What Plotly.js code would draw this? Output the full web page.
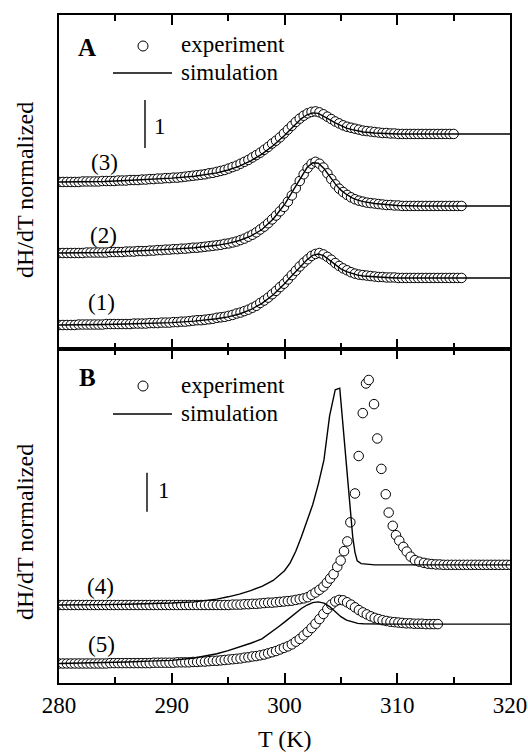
<!DOCTYPE html>
<html>
<head>
<meta charset="utf-8">
<script src="https://cdn.plot.ly/plotly-3.0.1.min.js"></script>
<style>html,body{margin:0;padding:0;background:#fff;}#chart{width:528px;height:752px;}</style>
</head>
<body>
<div id="chart"></div>
<script>
// ---------- data ----------
const xTickVals = [280, 290, 300, 310, 320];
const xTickText = ['280', '290', '300', '310', '320'];

// experimental temperature grid (K)
const T_exp = [
280.00,280.35,280.70,281.05,281.40,281.75,282.10,282.45,282.80,283.15,
283.50,283.85,284.20,284.55,284.90,285.25,285.60,285.95,286.30,286.65,
287.00,287.35,287.70,288.05,288.40,288.75,289.10,289.45,289.80,290.15,
290.50,290.85,291.20,291.55,291.90,292.25,292.60,292.95,293.30,293.65,
294.00,294.35,294.70,295.05,295.40,295.75,296.10,296.45,296.80,297.15,
297.50,297.85,298.20,298.55,298.90,299.25,299.60,299.95,300.30,300.65,
301.00,301.35,301.70,302.05,302.40,302.75,303.10,303.45,303.80,304.15,
304.50,304.85,305.20,305.55,305.90,306.25,306.60,306.95,307.30,307.65,
308.00,308.35,308.70,309.05,309.40,309.75,310.10,310.45,310.80,311.15,
311.50,311.85,312.20,312.55,312.90,313.25,313.60,313.95,314.30,314.65,
315.00,315.35,315.70];

const exp1 = [
0.50,0.50,0.50,0.50,0.50,0.51,0.51,0.51,0.51,0.51,
0.51,0.51,0.52,0.52,0.52,0.52,0.52,0.52,0.52,0.53,
0.53,0.53,0.53,0.54,0.54,0.54,0.55,0.55,0.55,0.56,
0.56,0.57,0.57,0.58,0.59,0.60,0.60,0.61,0.62,0.63,
0.65,0.66,0.67,0.69,0.71,0.74,0.76,0.79,0.82,0.86,
0.90,0.96,1.01,1.07,1.14,1.21,1.29,1.36,1.45,1.54,
1.63,1.72,1.80,1.87,1.94,1.98,2.00,1.97,1.92,1.86,
1.79,1.73,1.68,1.64,1.60,1.57,1.55,1.54,1.53,1.52,
1.51,1.50,1.50,1.49,1.49,1.49,1.48,1.48,1.48,1.48,
1.48,1.48,1.48,1.48,1.48,1.48,1.48,1.48,1.48,1.48,
1.48,1.48,1.48];

const exp2 = [
2.00,2.00,2.00,2.00,2.00,2.00,2.00,2.01,2.01,2.01,
2.01,2.01,2.01,2.02,2.02,2.02,2.02,2.03,2.03,2.03,
2.04,2.04,2.04,2.05,2.05,2.06,2.06,2.07,2.07,2.08,
2.08,2.09,2.09,2.10,2.11,2.11,2.12,2.13,2.14,2.15,
2.16,2.17,2.19,2.20,2.22,2.24,2.27,2.30,2.34,2.38,
2.43,2.49,2.55,2.62,2.70,2.78,2.87,2.96,3.07,3.20,
3.35,3.50,3.64,3.77,3.86,3.90,3.86,3.78,3.66,3.54,
3.43,3.34,3.27,3.21,3.16,3.12,3.09,3.07,3.05,3.04,
3.03,3.02,3.01,3.00,3.00,2.99,2.99,2.98,2.98,2.98,
2.98,2.98,2.98,2.98,2.98,2.98,2.98,2.98,2.98,2.98,
2.98,2.98,2.98];

const exp3 = [
3.48,3.48,3.48,3.48,3.48,3.48,3.49,3.49,3.49,3.49,
3.49,3.50,3.50,3.50,3.50,3.51,3.51,3.51,3.52,3.52,
3.52,3.53,3.53,3.54,3.54,3.55,3.55,3.56,3.56,3.57,
3.57,3.58,3.59,3.60,3.61,3.62,3.63,3.64,3.66,3.67,
3.69,3.71,3.73,3.76,3.79,3.82,3.86,3.90,3.94,3.99,
4.04,4.09,4.15,4.21,4.28,4.34,4.41,4.49,4.57,4.65,
4.73,4.80,4.86,4.91,4.94,4.95,4.93,4.89,4.84,4.79,
4.74,4.70,4.66,4.63,4.61,4.59,4.57,4.55,4.54,4.53,
4.52,4.51,4.50,4.50,4.49,4.49,4.48,4.48,4.48,4.48,
4.48,4.48,4.48,4.48,4.48,4.48,4.48,4.48,4.48,4.48,
4.48];

const exp5 = [
0.50,0.50,0.50,0.50,0.50,0.50,0.50,0.50,0.50,0.50,
0.50,0.50,0.50,0.51,0.51,0.51,0.51,0.51,0.51,0.51,
0.51,0.51,0.51,0.51,0.52,0.52,0.52,0.52,0.52,0.52,
0.53,0.53,0.53,0.53,0.54,0.54,0.55,0.55,0.56,0.57,
0.57,0.58,0.59,0.60,0.61,0.62,0.63,0.65,0.66,0.68,
0.69,0.71,0.73,0.76,0.79,0.82,0.86,0.90,0.94,0.99,
1.06,1.13,1.22,1.31,1.41,1.52,1.64,1.77,1.90,2.01,
2.09,2.13,2.12,2.07,2.01,1.94,1.87,1.81,1.76,1.71,
1.67,1.64,1.61,1.59,1.57,1.56,1.55,1.54,1.53,1.53,
1.52,1.52,1.52,1.51,1.51,1.51,1.51];

// sample (4): self-heating spreads the points near the peak
const T_exp4 = [
280.00,280.35,280.70,281.05,281.40,281.75,282.10,282.45,282.80,283.15,
283.50,283.85,284.20,284.55,284.90,285.25,285.60,285.95,286.30,286.65,
287.00,287.35,287.70,288.05,288.40,288.75,289.10,289.45,289.80,290.15,
290.50,290.85,291.20,291.55,291.90,292.25,292.60,292.95,293.30,293.65,
294.00,294.35,294.70,295.05,295.40,295.75,296.10,296.45,296.80,297.15,
297.50,297.85,298.20,298.55,298.90,299.25,299.60,299.95,300.30,300.65,
301.00,301.35,301.70,302.05,302.40,302.75,303.10,303.45,
303.75,304.05,304.35,304.68,304.98,305.28,305.57,305.84,306.25,306.58,
306.94,307.23,307.47,307.94,308.23,308.59,308.98,309.24,309.60,309.89,
310.18,310.54,310.84,311.19,311.57,311.96,312.37,312.72,313.07,313.42,
313.77,314.12,314.47,314.82,315.17,315.52,315.87,316.22,316.57,316.92,
317.27,317.62,317.97,318.32,318.67,319.02,319.37,319.72,320.07];

const exp4 = [
2.00,2.00,2.00,2.00,2.00,2.00,2.00,2.00,2.00,2.00,
2.00,2.00,2.00,2.00,2.00,2.00,2.00,2.00,2.00,2.00,
2.00,2.00,2.00,2.00,2.00,2.00,2.00,2.00,2.00,2.00,
2.00,2.00,2.00,2.00,2.00,2.00,2.00,2.00,2.00,2.00,
2.00,2.00,2.00,2.00,2.01,2.01,2.01,2.02,2.02,2.03,
2.03,2.04,2.05,2.06,2.06,2.07,2.08,2.09,2.10,2.11,
2.13,2.15,2.17,2.20,2.26,2.32,2.39,2.47,
2.57,2.68,2.79,2.98,3.14,3.38,3.63,4.12,4.86,5.82,
6.92,7.68,7.77,7.15,6.27,5.49,4.84,4.37,4.03,3.79,
3.65,3.49,3.37,3.24,3.15,3.11,3.08,3.06,3.05,3.04,
3.04,3.03,3.03,3.03,3.03,3.03,3.03,3.03,3.03,3.03,
3.03,3.03,3.03,3.03,3.03,3.03,3.03,3.03,3.03];

// simulations
const T_sim = [280,282,284,286,288,290,292,293,294,295,296,297,298,299,299.5,300,300.5,301,301.5,302,
               302.5,303,303.5,304,304.5,305,305.5,306,306.5,307,308,309,310,312,315,320];
const sim1 = [0.50,0.50,0.51,0.52,0.53,0.55,0.58,0.60,0.63,0.67,0.73,0.82,0.95,1.13,1.24,1.36,1.49,1.62,1.75,1.86,
              1.95,1.98,1.94,1.85,1.75,1.67,1.61,1.57,1.54,1.52,1.50,1.49,1.48,1.48,1.48,1.48];
const sim2 = [2.00,2.00,2.01,2.03,2.05,2.08,2.11,2.13,2.16,2.20,2.26,2.35,2.49,2.71,2.85,3.01,3.20,3.40,3.60,3.78,
              3.88,3.87,3.76,3.60,3.44,3.31,3.22,3.15,3.10,3.07,3.03,3.01,2.99,2.98,2.98,2.98];
const sim3 = [3.48,3.48,3.49,3.51,3.53,3.56,3.60,3.63,3.67,3.73,3.81,3.92,4.06,4.24,4.34,4.45,4.57,4.69,4.80,4.88,
              4.92,4.91,4.85,4.78,4.71,4.65,4.60,4.57,4.54,4.52,4.50,4.49,4.48,4.48,4.48,4.48];
const sim5 = [0.50,0.51,0.52,0.54,0.56,0.58,0.64,0.69,0.75,0.83,0.92,1.02,1.13,1.33,1.45,1.56,1.68,1.80,1.91,2.00,
              2.06,2.08,2.05,1.96,1.82,1.70,1.61,1.56,1.53,1.52,1.51,1.51,1.51,1.51,1.51,1.51];
const T_sim4 = [280,282,284,286,288,290,292,294,295,296,297,298,299,300,300.5,301,301.5,302,302.5,303,
                303.5,304,304.3,304.5,304.9,305.2,305.5,305.8,306.05,306.25,306.45,306.8,307.3,308,310,315,320];
const sim4 = [2.00,2.00,2.01,2.02,2.03,2.05,2.08,2.15,2.21,2.28,2.37,2.48,2.63,2.88,3.08,3.38,3.75,4.15,4.57,5.10,
              5.72,6.85,7.25,7.52,7.56,6.62,5.61,4.60,3.75,3.35,3.13,3.06,3.04,3.03,3.03,3.03,3.03];

const SCALE_UNIT = 1;

// ---------- drawing ----------
const FONT = '"Liberation Serif", "Times New Roman", Times, serif';
const L = 59, R = 510, TOP = 15, BOT = 683;
const PX = px => (px - L) / (R - L);
const PY = py => (BOT - py) / (BOT - TOP);

function expTrace(x, y, xa, ya) {
  return {x: x, y: y, xaxis: xa, yaxis: ya, type: 'scatter', mode: 'markers', showlegend: false,
          marker: {symbol: 'circle', size: 9.5, color: '#ffffff', line: {color: '#000000', width: 1}}};
}
function simTrace(x, y, xa, ya) {
  return {x: x, y: y, xaxis: xa, yaxis: ya, type: 'scatter', mode: 'lines', showlegend: false,
          line: {color: '#000000', width: 1.4}};
}

const traces = [
  expTrace(T_exp, exp1, 'x2', 'y2'),
  expTrace(T_exp, exp2, 'x2', 'y2'),
  expTrace(T_exp, exp3, 'x2', 'y2'),
  simTrace(T_sim, sim1, 'x2', 'y2'),
  simTrace(T_sim, sim2, 'x2', 'y2'),
  simTrace(T_sim, sim3, 'x2', 'y2'),
  expTrace(T_exp4, exp4, 'x', 'y'),
  expTrace(T_exp, exp5, 'x', 'y'),
  simTrace(T_sim4, sim4, 'x', 'y'),
  simTrace(T_sim, sim5, 'x', 'y')
];

const xCommon = {
  range: [280, 320], showgrid: false, zeroline: false,
  showline: true, linecolor: '#000', linewidth: 2, mirror: 'ticks',
  ticks: 'inside', ticklen: 10, tickwidth: 2, tickcolor: '#000',
  tickmode: 'array', tickvals: xTickVals, ticktext: xTickText,
  minor: {ticks: 'inside', ticklen: 6, tickwidth: 2, tickcolor: '#000', dtick: 5, tick0: 280, showgrid: false},
  tickfont: {family: FONT, size: 23, color: '#000'}
};
const yCommon = {
  showgrid: false, zeroline: false, showticklabels: false, ticks: '',
  showline: true, linecolor: '#000', linewidth: 2, mirror: true, fixedrange: true
};

const txt = (t, px, py, size, xanchor, extra) => Object.assign({
  text: t, xref: 'paper', yref: 'paper', x: PX(px), y: PY(py), showarrow: false,
  xanchor: xanchor || 'center', yanchor: 'middle',
  font: {family: FONT, size: size, color: '#000'}
}, extra || {});

const annotations = [
  txt('<b>A</b>', 87, 47, 25),
  txt('experiment', 179, 45, 23, 'left'),
  txt('simulation', 179, 73, 23, 'left'),
  txt('1', 160, 126, 23),
  txt('(3)', 104, 162, 23),
  txt('(2)', 103.5, 235, 23),
  txt('(1)', 101.5, 302, 23),
  txt('<b>B</b>', 87, 377, 25),
  txt('experiment', 179, 385, 23, 'left'),
  txt('simulation', 179, 413, 23, 'left'),
  txt('1', 164, 490, 23),
  txt('(4)', 100.7, 586, 23),
  txt('(5)', 101.7, 644, 23),
  txt('dH/dT normalized', 25, 190, 24, 'center', {textangle: -90}),
  txt('dH/dT normalized', 25, 532, 24, 'center', {textangle: -90}),
  txt('T (K)', 284.5, 739, 24)
];

const circ = (px, py) => ({type: 'circle', xref: 'paper', yref: 'paper', xsizemode: 'pixel', ysizemode: 'pixel',
  xanchor: PX(px), yanchor: PY(py), x0: -5, x1: 5, y0: -5, y1: 5,
  line: {color: '#000', width: 1}, fillcolor: '#fff'});
const hline = (px0, px1, py) => ({type: 'line', xref: 'paper', yref: 'paper',
  x0: PX(px0), x1: PX(px1), y0: PY(py), y1: PY(py), line: {color: '#000', width: 1.4}});

const scaleA0 = 4.19, scaleB0 = 4.39;
const shapes = [
  circ(143, 46), hline(113, 172, 73),
  circ(143, 386), hline(113, 172, 414),
  {type: 'line', xref: 'paper', yref: 'y2', x0: PX(145), x1: PX(145), y0: scaleA0, y1: scaleA0 + SCALE_UNIT, line: {color: '#000', width: 1.4}},
  {type: 'line', xref: 'paper', yref: 'y', x0: PX(147), x1: PX(147), y0: scaleB0, y1: scaleB0 + SCALE_UNIT, line: {color: '#000', width: 1.4}}
];

const layout = {
  width: 528, height: 752,
  margin: {l: L, r: 528 - R, t: TOP, b: 752 - BOT, pad: 0},
  paper_bgcolor: '#fff', plot_bgcolor: '#fff',
  showlegend: false,
  font: {family: FONT, color: '#000'},
  xaxis: Object.assign({}, xCommon, {anchor: 'y', domain: [0, 1]}),
  xaxis2: Object.assign({}, xCommon, {anchor: 'y2', matches: 'x', showticklabels: false}),
  yaxis: Object.assign({}, yCommon, {domain: [0, 0.5], range: [0, 334 / 39]}),
  yaxis2: Object.assign({}, yCommon, {domain: [0.5, 1], range: [0, 334 / 48]}),
  annotations: annotations,
  shapes: shapes
};

Plotly.newPlot('chart', traces, layout, {displayModeBar: false, staticPlot: true});
</script>
</body>
</html>
